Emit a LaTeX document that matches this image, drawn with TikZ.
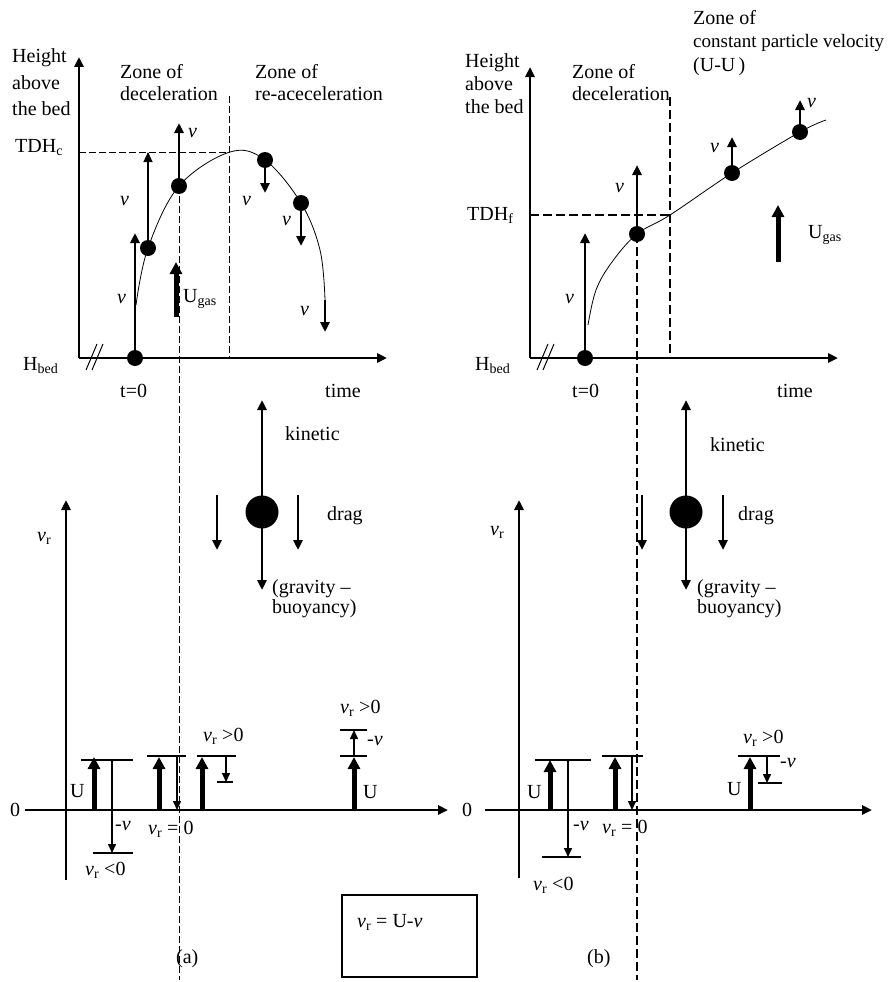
\documentclass[tikz,border=0pt]{standalone}
\usepackage{fontspec}
\setmainfont{Liberation Serif}
\usetikzlibrary{arrows.meta}

\begin{document}
\begin{tikzpicture}[x=1pt, y=-1pt, >={Triangle[length=10pt, width=9pt]},
    lbl/.style={font=\fontsize{20}{24}\selectfont, inner sep=0pt, anchor=base west},
    axis/.style={line width=2.6pt, ->},
    vel/.style={line width=2.6pt, ->},
    thinvel/.style={line width=1.2pt, ->},
    gas/.style={line width=5pt, -{Triangle[length=12pt, width=12pt]}},
    rel/.style={line width=1.5pt, -{Triangle[length=9pt, width=8pt]}},
    tick/.style={line width=1.3pt},
    thindash/.style={line width=1pt, dash pattern=on 7pt off 3pt},
    thickdash/.style={line width=2.6pt, dash pattern=on 9pt off 4pt}]
    \useasboundingbox (0,0) rectangle (887,982);

    % (a) height above the bed vs time
    \draw[axis] (79,358) -- (79,57);
    \draw[axis] (79,358) -- (387,358);
    \draw[line width=1pt] (86,370) -- (97,344) (92,370) -- (103,344);
    \node[lbl] (hgtA1) at (12,63) {Height};
    \node[lbl] (hgtA2) at (12,89) {above};
    \node[lbl] (hgtA3) at (12,115) {the bed};
    \node[lbl] (tdhc) at (15,152) {TDH\textsubscript{c}};
    \node[lbl] (hbedA) at (23,370) {H\textsubscript{bed}};
    \node[lbl] (tzeroA) at (120,397) {t=0};
    \node[lbl] (timeA) at (325,397) {time};
    \node[lbl] (zoneA1) at (120,78) {Zone of};
    \node[lbl] (zoneA2) at (120,100) {deceleration};
    \node[lbl] (zoneA3) at (255,78) {Zone of};
    \node[lbl] (zoneA4) at (255,100) {re-aceceleration};

    \coordinate (a0) at (135,358);
    \coordinate (a1) at (148,248);
    \coordinate (a2) at (179,186);
    \coordinate (a3) at (265,160);
    \coordinate (a4) at (301,203);
    \coordinate (a5) at (325,300);

    \draw[thindash] (79,152) -- (230,152);
    \draw[thindash] (229,96) -- (229,358);
    \draw[thindash] (a2) -- (179,980);
    \draw[line width=0.8pt] plot[smooth, tension=0.6] coordinates
        {(136,305) (a1) (a2) (230,152) (a3) (a4) (320,250) (a5)};
    \foreach \p in {a0,a1,a2,a3,a4} \fill (\p) circle (8pt);

    \draw[vel] (a0) -- ++(0,-125);
    \draw[thinvel] (a1) -- ++(0,-96);
    \draw[vel] (a2) -- ++(0,-63);
    \draw[vel] (a3) -- ++(0,33);
    \draw[vel] (a4) -- ++(0,43);
    \draw[vel] (a5) -- ++(0,32);
    \draw[gas] (176,317) -- (176,262);
    \node[lbl] (vA1) at (117,303) {\textit{v}};
    \node[lbl] (vA2) at (120,205) {\textit{v}};
    \node[lbl] (vA3) at (188,137) {\textit{v}};
    \node[lbl] (vA4) at (242,205) {\textit{v}};
    \node[lbl] (vA5) at (282,225) {\textit{v}};
    \node[lbl] (vA6) at (300,315) {\textit{v}};
    \node[lbl] (ugasA) at (183,302) {U\textsubscript{gas}};

    % (b) height above the bed vs time
    \draw[axis] (530,358) -- (530,67);
    \draw[axis] (530,358) -- (838,358);
    \draw[line width=1pt] (537,370) -- (548,344) (543,370) -- (554,344);
    \node[lbl] (hgtB1) at (465,67) {Height};
    \node[lbl] (hgtB2) at (465,90) {above};
    \node[lbl] (hgtB3) at (465,113) {the bed};
    \node[lbl] (tdhf) at (467,220) {TDH\textsubscript{f}};
    \node[lbl] (hbedB) at (475,370) {H\textsubscript{bed}};
    \node[lbl] (tzeroB) at (572,397) {t=0};
    \node[lbl] (timeB) at (777,397) {time};
    \node[lbl] (zoneB1) at (572,78) {Zone of};
    \node[lbl] (zoneB2) at (572,100) {deceleration};
    \node[lbl] (zoneB3) at (693,25) {Zone of};
    \node[lbl, font=\fontsize{19}{24}\selectfont] (zoneB4) at (693,48) {constant particle velocity};
    \node[lbl] (zoneB5) at (693,71) {(U-U\,)};

    \coordinate (b0) at (585,358);
    \coordinate (b1) at (637,234);
    \coordinate (b2) at (732,173);
    \coordinate (b3) at (800,132);

    \draw[thickdash] (530,215) -- (670,215);
    \draw[thickdash] (670,97) -- (670,358);
    \draw[thickdash] (b1) -- (637,980);
    \draw[line width=0.8pt] plot[smooth, tension=0.6] coordinates
        {(588,325) (596,290) (612,262) (b1) (670,215) (b2) (b3) (826,120)};
    \foreach \p in {b0,b1,b2,b3} \fill (\p) circle (8pt);

    \draw[vel] (b0) -- ++(0,-125);
    \draw[vel] (b1) -- ++(0,-69);
    \draw[vel] (b2) -- ++(0,-36);
    \draw[vel] (b3) -- ++(0,-32);
    \draw[gas] (778,262) -- (778,205);
    \node[lbl] (vB1) at (565,303) {\textit{v}};
    \node[lbl] (vB2) at (615,192) {\textit{v}};
    \node[lbl] (vB3) at (710,152) {\textit{v}};
    \node[lbl] (vB4) at (807,107) {\textit{v}};
    \node[lbl] (ugasB) at (808,238) {U\textsubscript{gas}};

    % forces on the particle
    \foreach \px/\dl/\dr in {262/217/298, 686/642/723}{
        \fill (\px,512) circle (16.5pt);
        \draw[vel] (\px,512) -- (\px,400);
        \draw[vel] (\px,512) -- (\px,590);
        \draw[vel] (\dl,495) -- (\dl,550);
        \draw[vel] (\dr,495) -- (\dr,550);
    }
    \node[lbl] (kinA) at (285,440) {kinetic};
    \node[lbl] (dragA) at (327,520) {drag};
    \node[lbl] (gravA1) at (272,593) {(gravity --};
    \node[lbl] (gravA2) at (272,613) {buoyancy)};
    \node[lbl] (kinB) at (710,451) {kinetic};
    \node[lbl] (dragB) at (738,520) {drag};
    \node[lbl] (gravB1) at (697,593) {(gravity --};
    \node[lbl] (gravB2) at (697,613) {buoyancy)};

    % (a) relative velocity
    \draw[axis] (66,880) -- (66,500);
    \draw[axis] (25,810) -- (448,810);
    \node[lbl] (vrA) at (37,541) {\textit{v}\textsubscript{r}};
    \node[lbl] (zeroA) at (10,816) {0};
    \draw[gas] (94,810) -- (94,757);
    \draw[tick] (81,760) -- (133,760) (93,853) -- (133,853);
    \draw[rel] (112,760) -- (112,853);
    \draw[gas] (159,810) -- (159,757);
    \draw[tick] (147,756) -- (186,756);
    \draw[rel] (177,756) -- (177,810);
    \draw[gas] (202,810) -- (202,757);
    \draw[tick] (197,756) -- (236,756) (217,782) -- (233,782);
    \draw[rel] (226,756) -- (226,782);
    \draw[gas] (354,810) -- (354,757);
    \draw[tick] (340,756) -- (367,756) (340,730) -- (367,730);
    \draw[rel] (354,756) -- (354,730);
    \node[lbl] (uA1) at (70,797) {U};
    \node[lbl] (mvA1) at (115,830) {-\textit{v}};
    \node[lbl] (ltA) at (85,875) {\textit{v}\textsubscript{r} {\textless}0};
    \node[lbl] (eqA) at (148,834) {\textit{v}\textsubscript{r} = 0};
    \node[lbl] (gtA1) at (203,741) {\textit{v}\textsubscript{r} {\textgreater}0};
    \node[lbl] (gtA2) at (340,713) {\textit{v}\textsubscript{r} {\textgreater}0};
    \node[lbl] (mvA2) at (367,745) {-\textit{v}};
    \node[lbl] (uA2) at (363,798) {U};
    \node[lbl] (capA) at (176,963) {(a)};

    % (b) relative velocity
    \draw[axis] (519,878) -- (519,500);
    \draw[axis] (485,810) -- (872,810);
    \node[lbl] (vrB) at (490,535) {\textit{v}\textsubscript{r}};
    \node[lbl] (zeroB) at (462,816) {0};
    \draw[gas] (550,810) -- (550,760);
    \draw[tick] (535,760) -- (591,760) (542,857) -- (581,857);
    \draw[rel] (568,760) -- (568,857);
    \draw[gas] (615,810) -- (615,757);
    \draw[tick] (602,756) -- (643,756);
    \draw[rel] (632,756) -- (632,810);
    \draw[gas] (750,810) -- (750,757);
    \draw[tick] (738,756) -- (780,756) (758,783) -- (782,783);
    \draw[rel] (767,756) -- (767,783);
    \node[lbl] (uB1) at (527,798) {U};
    \node[lbl] (mvB1) at (573,830) {-\textit{v}};
    \node[lbl] (ltB) at (533,890) {\textit{v}\textsubscript{r} {\textless}0};
    \node[lbl] (eqB) at (602,833) {\textit{v}\textsubscript{r} = 0};
    \node[lbl] (gtB) at (743,743) {\textit{v}\textsubscript{r} {\textgreater}0};
    \node[lbl] (mvB2) at (780,767) {-\textit{v}};
    \node[lbl] (uB2) at (727,795) {U};
    \node[lbl] (capB) at (587,963) {(b)};

    % definition box
    \draw[line width=2.6pt] (342,895) rectangle (477,977);
    \node[lbl] (defn) at (357,927) {\textit{v}\textsubscript{r} = U-\textit{v}};
\end{tikzpicture}
\end{document}
